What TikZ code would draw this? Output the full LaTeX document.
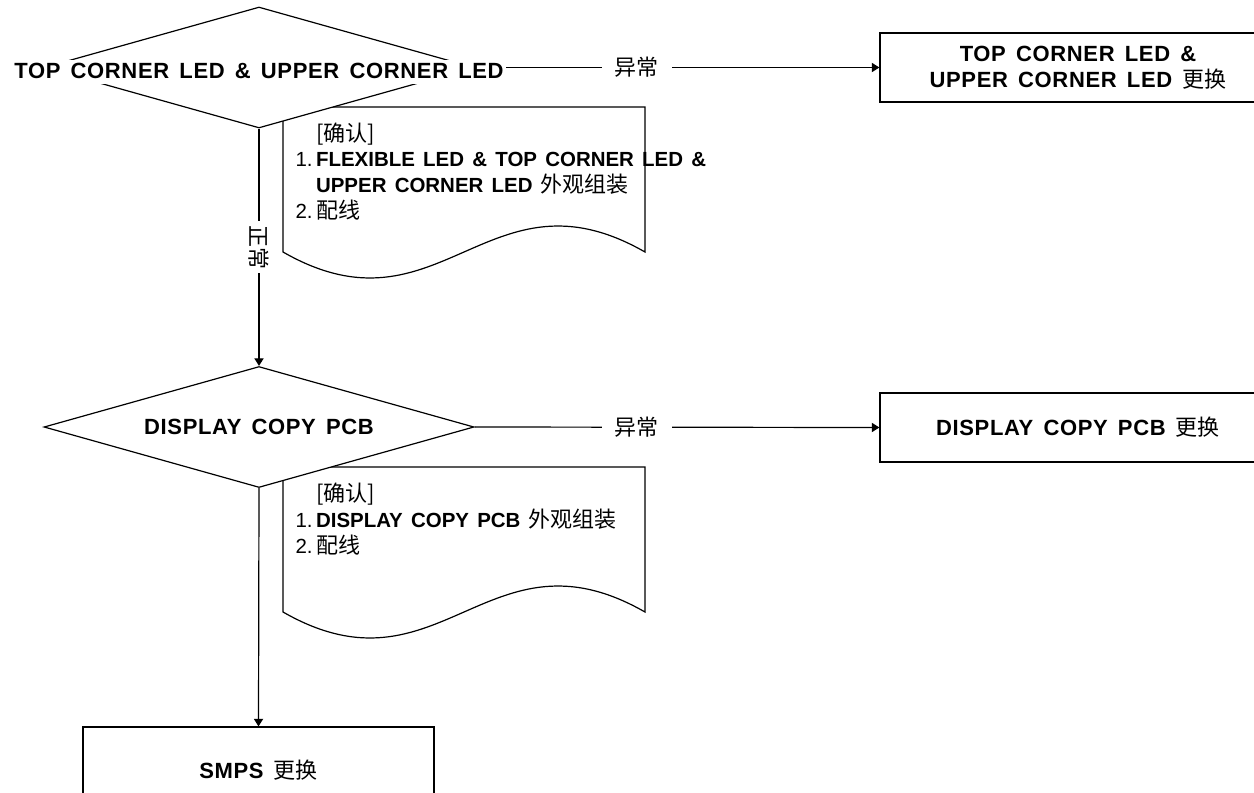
\documentclass[tikz,border=0pt]{standalone}
\usepackage{fontspec}
\setmainfont{Liberation Sans}[LetterSpace=3,WordSpace=1.5]
\newfontfamily\plainsans{Liberation Sans}[Scale=0.93,WordSpace=1.45]
\newfontfamily\cjk{Noto Sans CJK SC}
\newcommand\zh[1]{{\cjk\mdseries #1}}
\newcommand\fs{\fontsize{11}{12.75}\selectfont}
\usetikzlibrary{arrows.meta,positioning,shapes.geometric}
\tikzset{
  decision/.style={draw, fill=white, diamond, shape aspect=3.6, inner sep=1pt,
                   minimum width=215pt, minimum height=60.5pt, font=\fs\bfseries},
  chgbox/.style={draw, fill=white, rectangle, align=center, font=\fs\bfseries},
  chk/.style={align=left, inner sep=0pt, anchor=north west, font=\fs\plainsans},
  flowlbl/.style={fill=white, inner xsep=6.5pt, inner ysep=1pt, font=\fs},
  flowarrow/.style={-{Triangle[length=3.8pt,width=4.6pt]}},
  docshape/.style={draw, fill=white}
}

\begin{document}
\begin{tikzpicture}[x=0.5pt, y=-0.5pt, line width=0.6pt]
\useasboundingbox (0,0) rectangle (1254,793);
% first check: corner LEDs
\draw[docshape] (283,252) -- (283,107) -- (645,107) -- (645,252)
  .. controls (488,162) and (440,342) .. (283,252) -- cycle;
\node[chk] (n1) at (295,122) {\begin{tabular}{@{}l@{\,}l@{}}
  & \zh{[确认]}\\
  1. & \textbf{FLEXIBLE LED \& TOP CORNER LED \&}\\
  & \textbf{UPPER CORNER LED} \zh{外观组装}\\
  2. & \zh{配线}
\end{tabular}};
\node[decision] (d1) at (259,67.5) {};
\node[chgbox, minimum width=198pt, minimum height=34.5pt] (b1) at (1078,67.5)
  {TOP CORNER LED \&\\UPPER CORNER LED \zh{更换}};
\draw[flowarrow] (d1.east) -- node[flowlbl, pos=0.4] {\zh{异常}} (b1.west);
\node[fill=white, inner sep=1pt, text height=8pt, text depth=2pt, font=\fs\bfseries]
  (t1) at (259,72) {TOP CORNER LED \& UPPER CORNER LED};

% second check: display copy PCB
\draw[docshape] (283,612) -- (283,467) -- (645,467) -- (645,612)
  .. controls (488,522) and (440,702) .. (283,612) -- cycle;
\node[chk] (n2) at (295,482) {\begin{tabular}{@{}l@{\,}l@{}}
  & \zh{[确认]}\\
  1. & \textbf{DISPLAY COPY PCB} \zh{外观组装}\\
  2. & \zh{配线}
\end{tabular}};
\node[decision] (d2) at (259,427) {DISPLAY COPY PCB};
\node[chgbox, minimum width=198pt, minimum height=34.5pt] (b2) at (1078,427.5)
  {DISPLAY COPY PCB \zh{更换}};
\draw[flowarrow] (d2.east) -- node[flowlbl, pos=0.4] {\zh{异常}} (b2.west);
\draw[flowarrow] (d1.south) -- node[flowlbl, rotate=-90, inner xsep=2pt] {\zh{正常}} (d2.north);

% last step
\node[chgbox, minimum width=175.5pt, minimum height=43pt] (b3) at (258.5,770) {SMPS \zh{更换}};
\draw[flowarrow] (d2.south) -- (b3.north);
\end{tikzpicture}
\end{document}
